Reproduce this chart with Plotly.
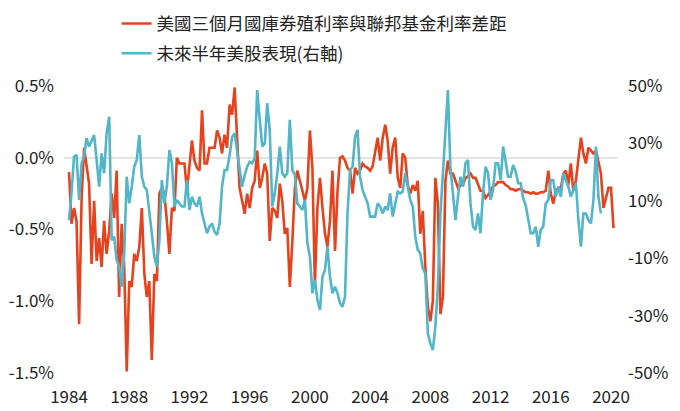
import pandas as pd
import plotly.graph_objects as go

# bimonthly readings, Jan 1984 onward
spread = [
    -0.10, -0.46, -0.35, -0.44, -1.16, -0.28,   # 1984
    0.07, -0.04, -0.18, -0.74, -0.30, -0.72,    # 1985
    -0.56, -0.76, -0.44, -0.67, -0.51, -0.25,   # 1986
    -0.42, -0.09, -0.97, -0.46, -0.76, -1.49,   # 1987
    -0.86, -0.90, -0.67, -0.72, -0.62, -0.35,   # 1988
    -0.81, -0.97, -0.86, -1.41, -0.81, -0.86,   # 1989
    -0.25, -0.21, -0.25, -0.44, -0.67, -0.35,   # 1990
    -0.37, 0.00, -0.04, -0.04, -0.04, -0.23,    # 1991
    -0.04, 0.12, -0.02, -0.07, -0.09, 0.33,     # 1992
    -0.04, -0.04, 0.07, 0.07, 0.07, 0.19,       # 1993
    0.14, 0.03, 0.16, 0.07, 0.37, 0.30,         # 1994
    0.49, 0.14, -0.21, -0.30, -0.39, -0.25,     # 1995
    -0.35, -0.21, -0.16, 0.05, -0.21, -0.14,    # 1996
    -0.04, -0.11, -0.58, -0.35, -0.37, -0.42,   # 1997
    -0.18, -0.30, -0.53, -0.49, -0.90, -0.58,   # 1998
    -0.21, -0.09, -0.16, -0.23, -0.30, -0.21,   # 1999
    0.19, -0.07, -0.88, -0.35, -0.14, -0.35,    # 2000
    -0.53, -0.62, -0.44, -0.09, -0.65, -0.23,   # 2001
    0.00, 0.01, -0.02, -0.07, -0.09, -0.25,     # 2002
    -0.07, -0.11, -0.09, -0.04, -0.06, -0.07,   # 2003
    -0.09, -0.06, 0.05, 0.14, -0.02, 0.14,      # 2004
    0.23, 0.12, -0.11, 0.07, 0.14, -0.14,       # 2005
    -0.21, 0.03, 0.00, -0.19, -0.25, -0.19,     # 2006
    -0.23, -0.16, -0.53, -0.37, -0.76, -1.04,   # 2007
    -1.14, -1.00, -0.14, -0.32, -1.09, -0.97,   # 2008
    -0.16, -0.02, -0.11, -0.11, -0.16, -0.21,   # 2009
    -0.19, -0.19, -0.14, -0.13, -0.11, -0.14,   # 2010
    -0.14, -0.19, -0.23, -0.23, -0.28, -0.26,   # 2011
    -0.23, -0.20, -0.19, -0.17, -0.17, -0.17,   # 2012
    -0.19, -0.20, -0.22, -0.22, -0.23, -0.22,   # 2013
    -0.22, -0.23, -0.24, -0.24, -0.25, -0.24,   # 2014
    -0.25, -0.25, -0.24, -0.24, -0.23, -0.09,   # 2015
    -0.25, -0.32, -0.23, -0.21, -0.21, -0.11,   # 2016
    -0.09, -0.19, -0.04, -0.23, -0.16, -0.01,   # 2017
    0.14, 0.03, -0.04, 0.07, 0.05, 0.03,        # 2018
    0.05, -0.04, -0.11, -0.35, -0.28, -0.21,    # 2019
    -0.21, -0.49,                               # 2020
]

stocks_6m = [
    3.3, 12.6, 25.4, 26.0, 10.3, 23.1,          # 1984
    25.4, 31.8, 28.9, 31.2, 32.9, 24.2,         # 1985
    14.9, 26.5, 19.6, 33.5, 39.3, -3.7,         # 1986
    -2.5, -10.6, -12.9, -19.9, -8.3, 18.4,      # 1987
    9.1, 14.9, 21.9, 24.2, 32.9, 18.4,          # 1988
    14.9, 13.8, 6.8, -1.3, -9.5, -13.0,         # 1989
    -3.7, 17.2, 9.1, 14.9, 27.7, 23.1,          # 1990
    8.0, 10.3, 9.1, 8.0, 8.0, 17.2,             # 1991
    6.8, 11.4, 9.1, 8.0, 11.4, 5.6,             # 1992
    2.1, -1.3, 1.0, 2.1, -0.8, -1.9,            # 1993
    2.1, 14.9, 20.7, 20.7, 26.0, 32.3,          # 1994
    33.5, 27.7, 20.7, 14.9, 19.0, 21.9,         # 1995
    23.6, 23.1, 24.8, 48.6, 38.2, 28.9,         # 1996
    30.0, 44.0, 34.7, 8.0, 12.6, 19.6,          # 1997
    28.9, 19.6, 18.4, 19.6, 38.2, 20.7,         # 1998
    19.0, 9.1, 8.0, 6.8, 10.3, -4.8,            # 1999
    -9.5, -22.2, -17.6, -24.6, -28.0, -16.4,    # 2000
    -14.1, -6.0, -16.4, -22.2, -19.9, -22.2,    # 2001
    -25.7, -26.9, -23.5, 5.6, 20.7, 21.9,       # 2002
    32.3, 34.7, 18.4, 13.8, 11.4, 9.1,          # 2003
    4.5, 4.5, 4.5, 9.1, 8.0, 5.6,               # 2004
    8.0, 6.8, 12.6, 4.5, 9.1, 13.2,             # 2005
    12.6, 13.2, 19.6, 14.9, 10.3, 8.0,          # 2006
    -2.5, -7.1, -8.3, -13.5, -15.3, -36.2,      # 2007
    -39.7, -42.0, -33.9, -19.9, 5.6, 19.6,      # 2008
    34.7, 48.6, 21.9, 11.4, 3.3, 11.4,          # 2009
    18.4, 14.9, 23.1, 24.2, 9.1, 1.0,           # 2010
    -0.2, 5.6, -1.3, 12.6, 21.9, 19.6,          # 2011
    10.3, 13.8, 23.1, 23.1, 17.2, 28.9,         # 2012
    24.2, 18.4, 18.4, 22.5, 20.2, 16.1,         # 2013
    16.1, 10.9, 8.5, 3.3, -1.3, -1.3,           # 2014
    1.0, -6.0, -0.2, 1.0, 9.1, 10.3,            # 2015
    17.2, 17.2, 11.4, 14.9, 11.4, 19.6,         # 2016
    17.2, 14.9, 11.4, 13.8, 16.1, 3.3,          # 2017
    -6.0, 5.6, 5.6, 3.3, 2.1, 10.3,             # 2018
    28.9, 11.4, 5.6,                            # 2019
]

left_ticks = [-1.5, -1.0, -0.5, 0.0, 0.5]
left_labels = ['-1.5%', '-1.0%', '-0.5%', '0.0%', '0.5%']
right_ticks = [-50, -30, -10, 10, 30, 50]
right_labels = ['-50%', '-30%', '-10%', '10%', '30%', '50%']

dates_spread = pd.date_range('1984-01-01', periods=len(spread), freq='2MS')
dates_stocks = pd.date_range('1984-01-01', periods=len(stocks_6m), freq='2MS')

fig = go.Figure()
fig.add_trace(go.Scatter(
    x=dates_spread, y=spread,
    name='美國三個月國庫券殖利率與聯邦基金利率差距',
    mode='lines', line=dict(color='#E5421D', width=2.6),
    legendgroup='a',
))
fig.add_trace(go.Scatter(
    x=dates_stocks, y=stocks_6m,
    name='未來半年美股表現(右軸)',
    mode='lines', line=dict(color='#52B5C8', width=2.6),
    yaxis='y2', legendgroup='b',
))

# page body adds an 8px offset, so the figure is 8px smaller each way
fig.update_layout(
    width=672, height=403,
    margin=dict(l=56, r=63, t=78, b=38, autoexpand=False),
    paper_bgcolor='white', plot_bgcolor='white',
    font=dict(family='Noto Sans CJK TC, Noto Sans', size=17, color='#222'),
    showlegend=True,
    legend=dict(
        x=0.095, xanchor='left', y=1.28, yanchor='top',
        bgcolor='rgba(0,0,0,0)', tracegroupgap=4,
        font=dict(size=17.5), traceorder='grouped',
    ),
    xaxis=dict(
        type='date', range=['1983-09-01', '2020-05-25'],
        tick0='1984-01-01', dtick='M48', tickformat='%Y',
        showgrid=False, zeroline=False, showline=False, ticks='',
        ticklabelstandoff=12,
    ),
    yaxis=dict(
        range=[-1.5, 0.5], tickvals=left_ticks, ticktext=left_labels,
        showgrid=False, zeroline=True, zerolinecolor='#E3E3E3', zerolinewidth=1.5,
        showline=False, ticks='', ticklabelstandoff=9,
    ),
    yaxis2=dict(
        range=[-50, 50], tickvals=right_ticks, ticktext=right_labels,
        overlaying='y', side='right',
        showgrid=False, zeroline=False, showline=False, ticks='',
        ticklabelstandoff=10,
    ),
)
fig.update_traces(hovertemplate=None)

fig.write_html('out.html')
